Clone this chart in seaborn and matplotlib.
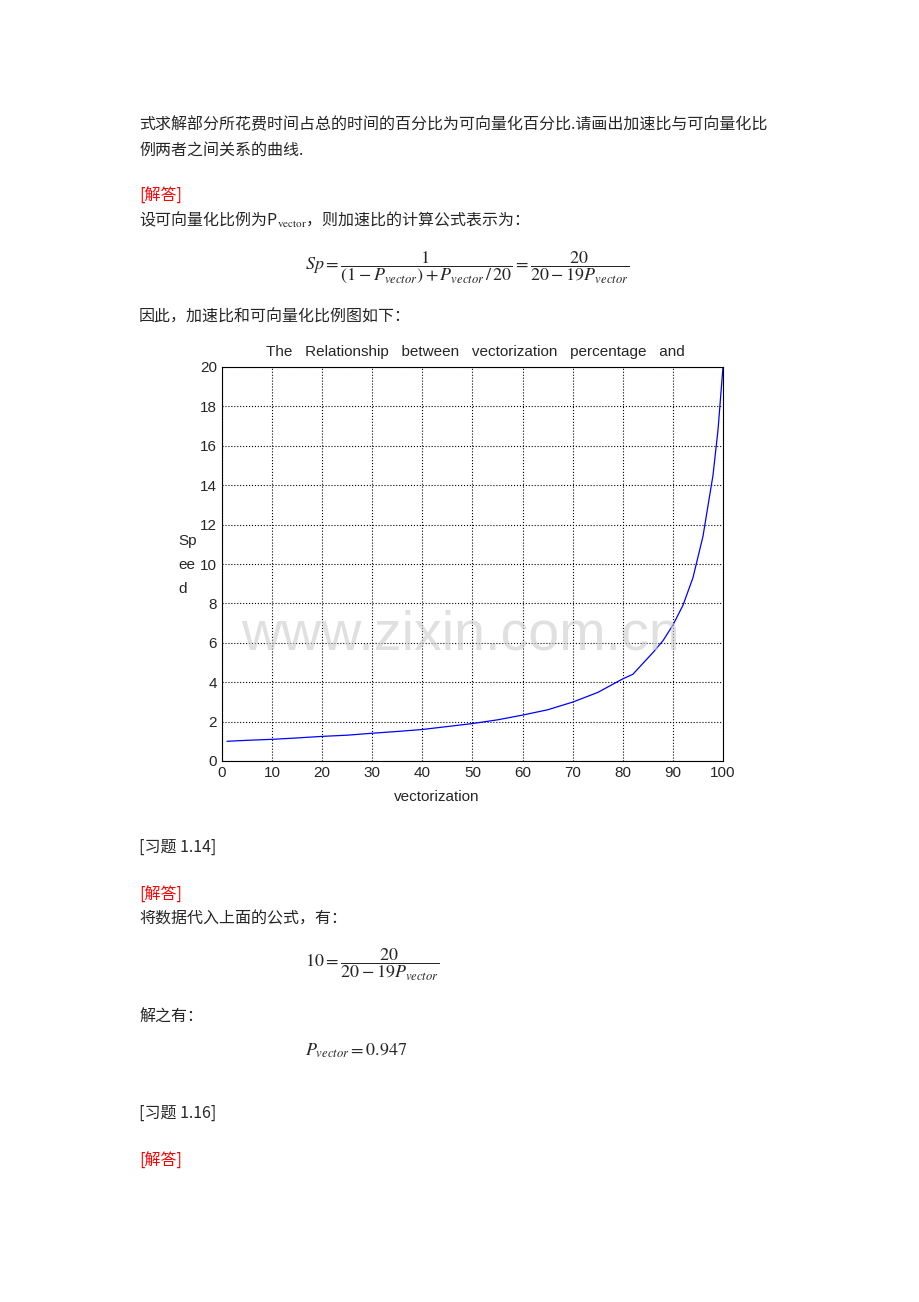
import matplotlib
matplotlib.use('Agg')
import seaborn as sns
import matplotlib.pyplot as plt
import pandas as pd

# values
vec_pct = [1, 5, 10, 15, 20, 25, 30, 35, 40, 45, 50, 55, 60, 65, 70, 75,
           80, 82, 84, 86, 88, 90, 92, 94, 96, 98, 99, 100]
speedup = [1.0, 1.05, 1.1, 1.17, 1.25, 1.31, 1.41, 1.5, 1.6, 1.75, 1.9, 2.09,
           2.33, 2.6, 2.99, 3.48, 4.17, 4.4, 4.95, 5.5, 6.1, 6.9, 7.9, 9.3,
           11.4, 14.5, 16.8, 20.0]
xticks = list(range(0, 101, 10))
yticks = list(range(0, 21, 2))

sns.set_style('white')
plt.rcParams['font.family'] = ['Noto Sans CJK SC', 'DejaVu Sans']
plt.rcParams['mathtext.fontset'] = 'stix'

W, H = 920, 1302
fig = plt.figure(figsize=(9.2, 13.02), dpi=100)

def t(x, y, s, **kw):
    kw.setdefault('fontsize', 11.5)
    fig.text(x / W, 1 - y / H, s, va='center', **kw)

arial = ['Liberation Sans', 'DejaVu Sans']

t(139, 125, '式求解部分所花费时间占总的时间的百分比为可向量化百分比.请画出加速比与可向量化比')
t(139, 150, '例两者之间关系的曲线.')
t(139, 196, '[解答]', color='red')
t(139, 220, r'设可向量化比例为P$_{\mathrm{vector}}$，则加速比的计算公式表示为：')
t(305, 267, r'$Sp=\dfrac{1}{(1-P_{vector})+P_{vector}\,/\,20}=\dfrac{20}{20-19P_{vector}}$', fontsize=13)
t(139, 317, '因此，加速比和可向量化比例图如下：')
t(139, 847, '[习题 1.14]')
t(139, 895, '[解答]', color='red')
t(139, 919, '将数据代入上面的公式，有：')
t(305, 965, r'$10=\dfrac{20}{20-19P_{vector}}$', fontsize=13)
t(139, 1017, '解之有：')
t(305, 1051, r'$P_{vector}=0.947$', fontsize=13)
t(139, 1113, '[习题 1.16]')
t(139, 1161, '[解答]', color='red')

ax = fig.add_axes([222 / W, 1 - 761 / H, 501 / W, 394 / H])
df = pd.DataFrame({'vec': vec_pct, 'sp': speedup})
sns.lineplot(data=df, x='vec', y='sp', ax=ax, color='blue', linewidth=0.9)
ax.set_xlim(0, 100)
ax.set_ylim(0, 20)
ax.set_xticks(xticks)
ax.set_yticks(yticks)
ax.tick_params(direction='in', labelsize=11, length=4)
for lab in ax.get_xticklabels() + ax.get_yticklabels():
    lab.set_family(arial)
ax.grid(True, color='black', linestyle=':', linewidth=0.8)
for s in ax.spines.values():
    s.set_color('black')
    s.set_linewidth(0.8)
ax.set_xlabel('')
ax.set_ylabel('')

t(475, 352, 'The   Relationship   between   vectorization   percentage   and', fontsize=11, ha='center', family=arial)
t(437, 797, 'vectorization', fontsize=11, ha='center', family=arial)
t(178, 565, 'Sp\nee\nd', fontsize=11, linespacing=1.9, family=arial)
t(460, 635, 'www.zixin.com.cn', fontsize=40, ha='center', color='#cccccc', alpha=0.6, family=arial)

fig.savefig('out.png', dpi=100)
